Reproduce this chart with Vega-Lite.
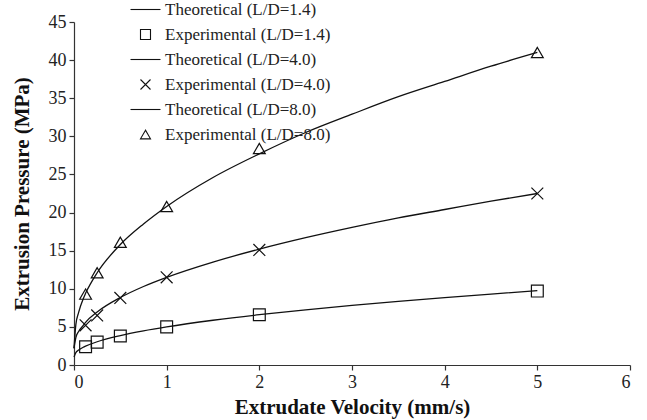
{
  "$schema": "https://vega.github.io/schema/vega-lite/v6.json",
  "autosize": {"type": "none"},
  "width": 556,
  "height": 343,
  "padding": {"left": 74, "top": 22, "right": 17, "bottom": 55},
  "background": "white",
  "config": {
    "view": {"stroke": null},
    "axis": {
      "grid": false,
      "labelFont": "Liberation Serif",
      "labelFontSize": 18,
      "labelColor": "#222",
      "titleFont": "Liberation Serif",
      "titleFontSize": 21,
      "titleFontWeight": "bold",
      "titleColor": "#111",
      "domainColor": "#333",
      "tickColor": "#333",
      "tickSize": 5,
      "domainWidth": 1.2,
      "tickWidth": 1.2
    },
    "legend": {
      "labelFont": "Liberation Serif",
      "labelFontSize": 17,
      "labelColor": "#222",
      "labelLimit": 400
    }
  },
  "datasets": {
    "theory": [
      {"v": 0, "p": 1.05, "ld": "1.4"}, {"v": 0.02, "p": 1.63, "ld": "1.4"}, {"v": 0.05, "p": 1.96, "ld": "1.4"}, {"v": 0.1, "p": 2.33, "ld": "1.4"}, {"v": 0.125, "p": 2.47, "ld": "1.4"}, {"v": 0.25, "p": 3.05, "ld": "1.4"}, {"v": 0.5, "p": 3.86, "ld": "1.4"}, {"v": 0.75, "p": 4.48, "ld": "1.4"}, {"v": 1, "p": 5.0, "ld": "1.4"}, {"v": 1.5, "p": 5.87, "ld": "1.4"}, {"v": 2, "p": 6.6, "ld": "1.4"}, {"v": 2.5, "p": 7.24, "ld": "1.4"}, {"v": 3, "p": 7.83, "ld": "1.4"}, {"v": 3.5, "p": 8.36, "ld": "1.4"}, {"v": 4, "p": 8.85, "ld": "1.4"}, {"v": 4.5, "p": 9.31, "ld": "1.4"}, {"v": 5, "p": 9.75, "ld": "1.4"},
      {"v": 0, "p": 2.2, "ld": "4.0"}, {"v": 0.02, "p": 3.6, "ld": "4.0"}, {"v": 0.05, "p": 4.4, "ld": "4.0"}, {"v": 0.1, "p": 5.2, "ld": "4.0"}, {"v": 0.125, "p": 5.6, "ld": "4.0"}, {"v": 0.25, "p": 6.95, "ld": "4.0"}, {"v": 0.5, "p": 8.85, "ld": "4.0"}, {"v": 0.75, "p": 10.3, "ld": "4.0"}, {"v": 1, "p": 11.5, "ld": "4.0"}, {"v": 1.5, "p": 13.5, "ld": "4.0"}, {"v": 2, "p": 15.2, "ld": "4.0"}, {"v": 2.5, "p": 16.7, "ld": "4.0"}, {"v": 3, "p": 18.05, "ld": "4.0"}, {"v": 3.5, "p": 19.3, "ld": "4.0"}, {"v": 4, "p": 20.4, "ld": "4.0"}, {"v": 4.5, "p": 21.5, "ld": "4.0"}, {"v": 5, "p": 22.5, "ld": "4.0"},
      {"v": 0, "p": 2.2, "ld": "8.0"}, {"v": 0.02, "p": 5.3, "ld": "8.0"}, {"v": 0.05, "p": 6.9, "ld": "8.0"}, {"v": 0.1, "p": 8.7, "ld": "8.0"}, {"v": 0.125, "p": 9.4, "ld": "8.0"}, {"v": 0.25, "p": 12.1, "ld": "8.0"}, {"v": 0.5, "p": 15.8, "ld": "8.0"}, {"v": 0.75, "p": 18.5, "ld": "8.0"}, {"v": 1, "p": 20.8, "ld": "8.0"}, {"v": 1.5, "p": 24.6, "ld": "8.0"}, {"v": 2, "p": 27.7, "ld": "8.0"}, {"v": 2.5, "p": 30.5, "ld": "8.0"}, {"v": 3, "p": 32.9, "ld": "8.0"}, {"v": 3.5, "p": 35.2, "ld": "8.0"}, {"v": 4, "p": 37.2, "ld": "8.0"}, {"v": 4.5, "p": 39.2, "ld": "8.0"}, {"v": 5, "p": 41.0, "ld": "8.0"}
    ],
    "exp": [
      {"v": 0.125, "p": 2.4, "series": "Experimental (L/D=1.4)"}, {"v": 0.25, "p": 3.0, "series": "Experimental (L/D=1.4)"}, {"v": 0.5, "p": 3.8, "series": "Experimental (L/D=1.4)"}, {"v": 1, "p": 5.0, "series": "Experimental (L/D=1.4)"}, {"v": 2, "p": 6.6, "series": "Experimental (L/D=1.4)"}, {"v": 5, "p": 9.7, "series": "Experimental (L/D=1.4)"},
      {"v": 0.125, "p": 5.2, "series": "Experimental (L/D=4.0)"}, {"v": 0.25, "p": 6.5, "series": "Experimental (L/D=4.0)"}, {"v": 0.5, "p": 8.8, "series": "Experimental (L/D=4.0)"}, {"v": 1, "p": 11.5, "series": "Experimental (L/D=4.0)"}, {"v": 2, "p": 15.1, "series": "Experimental (L/D=4.0)"}, {"v": 5, "p": 22.5, "series": "Experimental (L/D=4.0)"},
      {"v": 0.125, "p": 9.3, "series": "Experimental (L/D=8.0)"}, {"v": 0.25, "p": 12.1, "series": "Experimental (L/D=8.0)"}, {"v": 0.5, "p": 16.1, "series": "Experimental (L/D=8.0)"}, {"v": 1, "p": 20.8, "series": "Experimental (L/D=8.0)"}, {"v": 2, "p": 28.4, "series": "Experimental (L/D=8.0)"}, {"v": 5, "p": 41.0, "series": "Experimental (L/D=8.0)"}
    ]
  },
  "encoding": {
    "x": {
      "field": "v", "type": "quantitative",
      "scale": {"domain": [0, 6], "nice": false},
      "axis": {"values": [0, 1, 2, 3, 4, 5, 6], "title": "Extrudate Velocity (mm/s)", "labelPadding": 3, "titlePadding": 5}
    },
    "y": {
      "field": "p", "type": "quantitative",
      "scale": {"domain": [0, 45], "nice": false},
      "axis": {"values": [0, 5, 10, 15, 20, 25, 30, 35, 40, 45], "title": "Extrusion Pressure (MPa)", "labelPadding": 3, "titlePadding": 16}
    }
  },
  "layer": [
    {
      "data": {"name": "theory"},
      "mark": {"type": "line", "color": "#111", "strokeWidth": 1.3, "interpolate": "monotone"},
      "encoding": {"detail": {"field": "ld", "type": "nominal"}}
    },
    {
      "data": {"name": "exp"},
      "mark": {"type": "point", "filled": false, "color": "#111", "size": 140, "strokeWidth": 1.2, "opacity": 1},
      "encoding": {
        "shape": {
          "field": "series", "type": "nominal",
          "scale": {
            "domain": ["Theoretical (L/D=1.4)", "Experimental (L/D=1.4)", "Theoretical (L/D=4.0)", "Experimental (L/D=4.0)", "Theoretical (L/D=8.0)", "Experimental (L/D=8.0)"],
            "range": ["M-3,0H3", "square", "M-3,0H3", "M-1,-1L1,1M-1,1L1,-1", "M-3,0H3", "triangle-up"]
          },
          "legend": {
            "title": null,
            "orient": "none",
            "legendX": 63,
            "legendY": -21,
            "symbolSize": 100,
            "symbolStrokeColor": "#111",
            "symbolFillColor": "transparent",
            "symbolStrokeWidth": 1.1,
            "labelOffset": 11,
            "rowPadding": 7
          }
        }
      }
    }
  ]
}
